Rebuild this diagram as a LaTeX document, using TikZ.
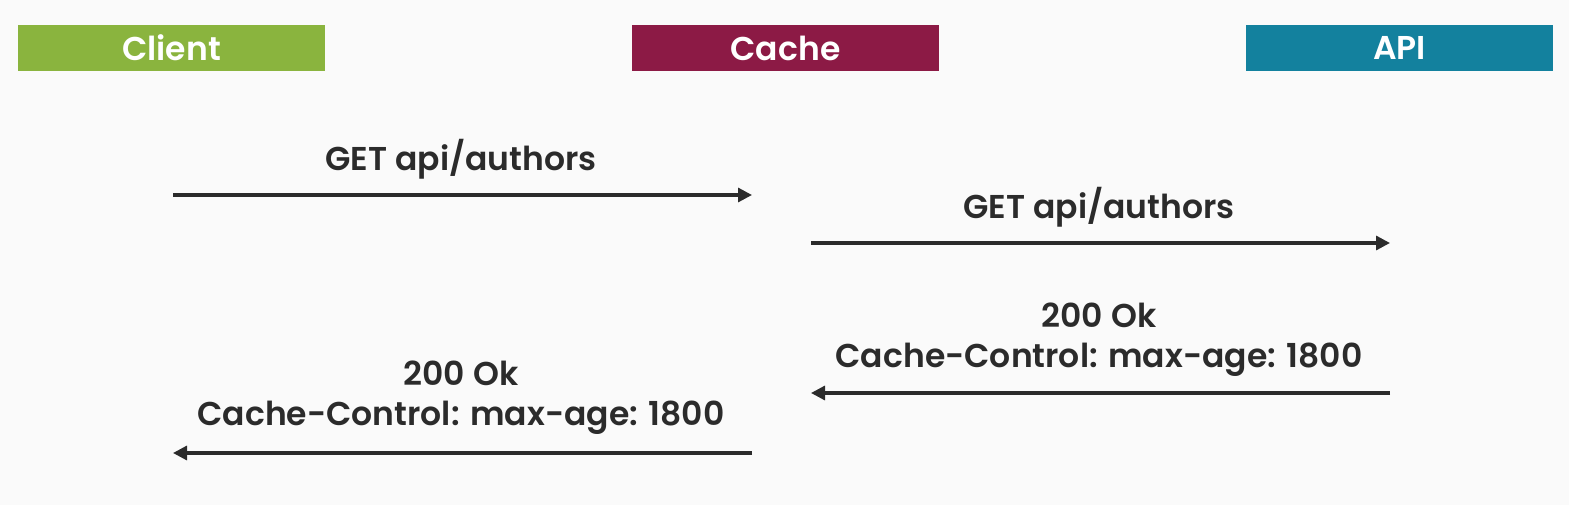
\documentclass[tikz,border=0pt]{standalone}
\usepackage{fontspec}
\setmainfont{Poppins}[BoldFont={Poppins SemiBold}]
\usetikzlibrary{arrows.meta}

\definecolor{bgcol}{HTML}{FAFAFA}
\definecolor{clientcol}{HTML}{8AB43E}
\definecolor{cachecol}{HTML}{8C1A45}
\definecolor{apicol}{HTML}{13819E}
\definecolor{inkcol}{HTML}{2B2B2B}

\tikzset{
  actor/.style={minimum width=307pt,minimum height=46pt,inner sep=0pt,
    text=white,font=\fontsize{33}{38}\selectfont\bfseries},
  msg/.style={inkcol,line width=3.2pt,-{Triangle[length=14pt,width=14pt]}},
  lbl/.style={text=inkcol,inner sep=0pt,anchor=base,font=\fontsize{33}{38}\selectfont\bfseries}
}

\begin{document}
\begin{tikzpicture}[x=1pt,y=-1pt]
\fill[bgcol] (0,0) rectangle (1569,505);
\useasboundingbox (0,0) rectangle (1569,505);

% Acteurs
\node[actor,fill=clientcol](client) at (171.5,48){Client};
\node[actor,fill=cachecol](cache) at (785.5,48){Cache};
\node[actor,fill=apicol](api) at (1399.5,48){API};

% Extrémités des flèches
\coordinate(c1) at (173,195);
\coordinate(k1) at (752,195);
\coordinate(k2) at (811,243);
\coordinate(a2) at (1390,243);
\coordinate(a3) at (1390,393);
\coordinate(k3) at (811,393);
\coordinate(k4) at (752,453);
\coordinate(c4) at (173,453);

% requête client -> cache
\draw[msg](c1)--(k1);
\node[lbl](get1) at (461,171){GET api/authors};

% requête cache -> api
\draw[msg](k2)--(a2);
\node[lbl](get2) at (1099,219){GET api/authors};

% réponse api -> cache
\draw[msg](a3)--(k3);
\node[lbl](ok3) at (1099,327){200 Ok};
\node[lbl](cc3) at (1099,367){Cache-Control: max-age: 1800};

% réponse cache -> client
\draw[msg](k4)--(c4);
\node[lbl](ok4) at (461,385){200 Ok};
\node[lbl](cc4) at (461,425){Cache-Control: max-age: 1800};

\end{tikzpicture}
\end{document}
